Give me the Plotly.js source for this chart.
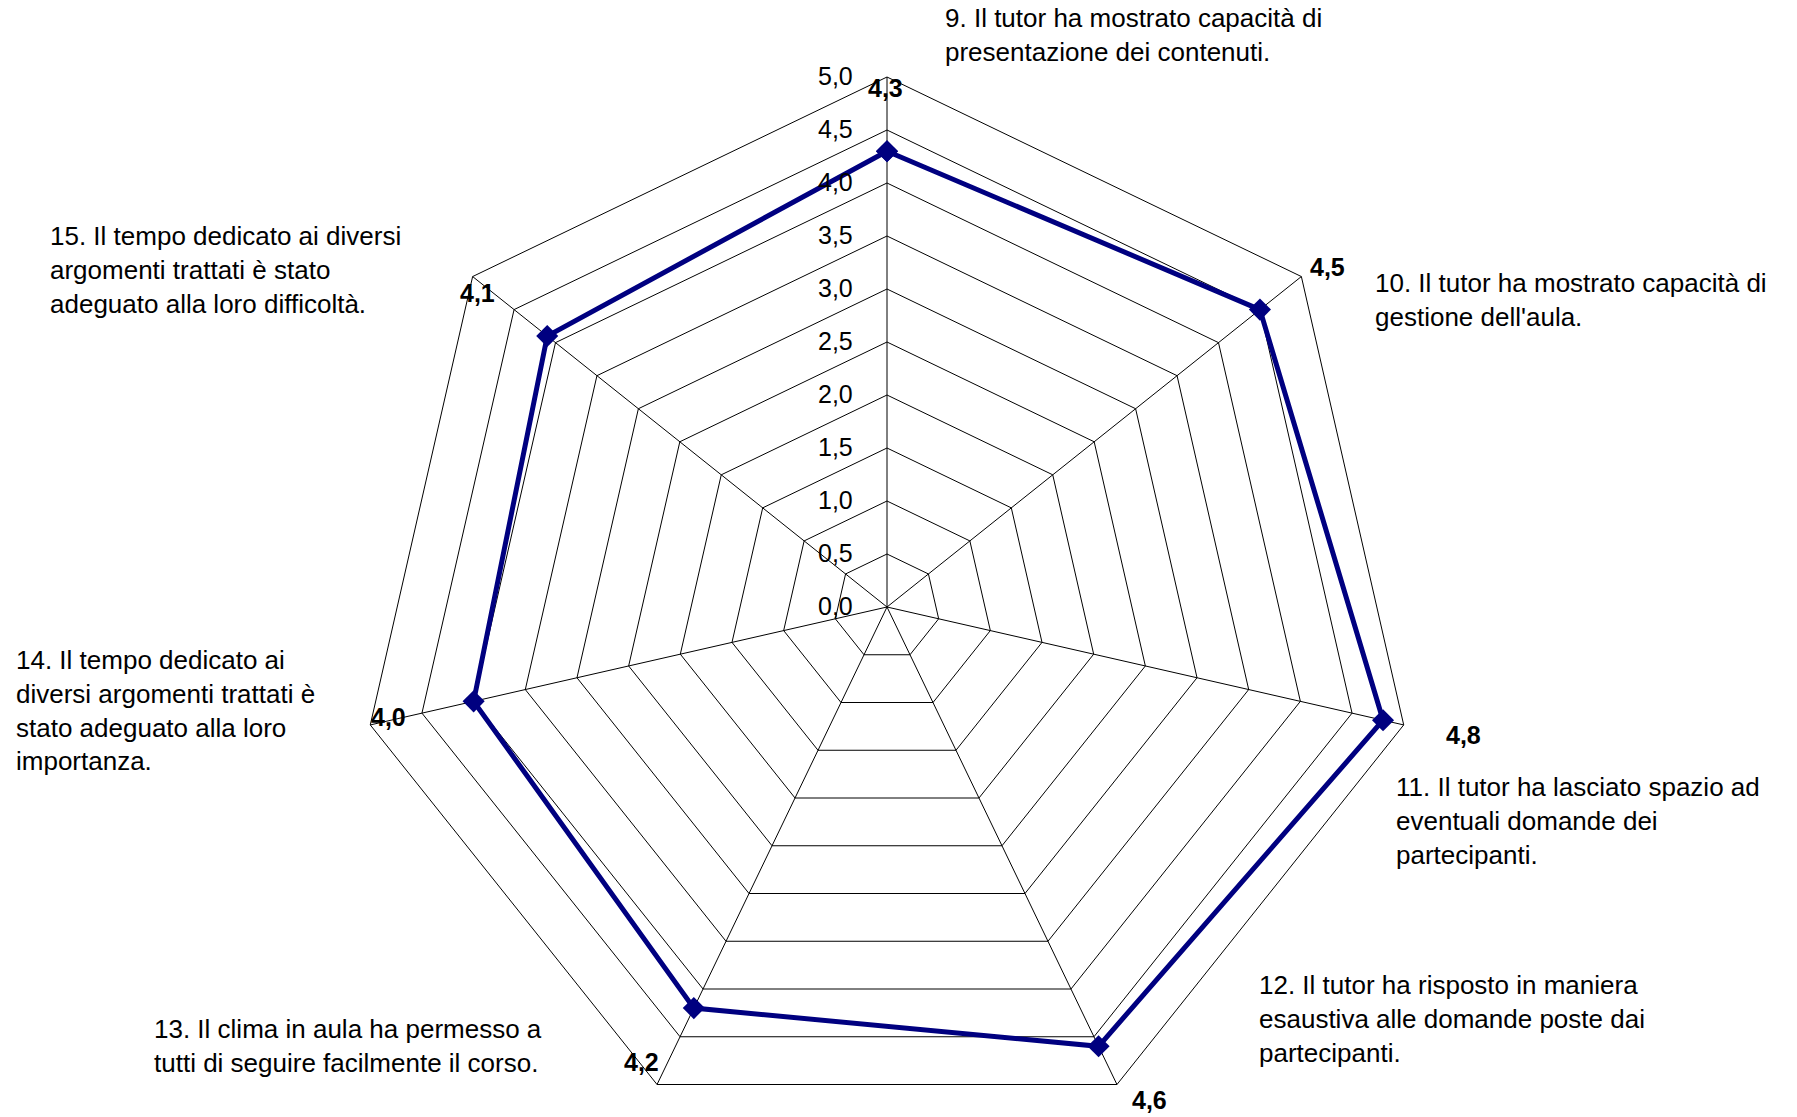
<!DOCTYPE html>
<html>
<head>
<meta charset="utf-8">
<script src="https://cdn.plot.ly/plotly-3.0.1.min.js"></script>
<style>
html, body { margin: 0; padding: 0; background: #ffffff; overflow: hidden; height: 1117px; }
#chart { width: 1797px; height: 1137px; }
</style>
</head>
<body>
<div id="chart"></div>
<script>
// ---- data ----
var questionIds = ["Q9", "Q10", "Q11", "Q12", "Q13", "Q14", "Q15"];
var questionLabels = [
  "9. Il tutor ha mostrato capacità di<br>presentazione dei contenuti.",
  "10. Il tutor ha mostrato capacità di<br>gestione dell'aula.",
  "11. Il tutor ha lasciato spazio ad<br>eventuali domande dei<br>partecipanti.",
  "12. Il tutor ha risposto in maniera<br>esaustiva alle domande poste dai<br>partecipanti.",
  "13. Il clima in aula ha permesso a<br>tutti di seguire facilmente il corso.",
  "14. Il tempo dedicato ai<br>diversi argomenti trattati è<br>stato adeguato alla loro<br>importanza.",
  "15. Il tempo dedicato ai diversi<br>argomenti trattati è stato<br>adeguato alla loro difficoltà."
];
var scores = [4.3, 4.5, 4.8, 4.6, 4.2, 4.0, 4.1];
var radialTicks = [0, 0.5, 1, 1.5, 2, 2.5, 3, 3.5, 4, 4.5, 5];

// ---- layout helpers (label placement in pixels -> paper) ----
var W = 1797, H = 1137, ML = 357, MR = 380, MT = 77, MB = 0;
var DW = W - ML - MR, DH = H - MT - MB;
function px(x) { return (x - ML) / DW; }
function py(y) { return 1 - (y - MT) / DH; }

var questionPos = [[943, 35], [1373, 300], [1394, 821], [1257, 1019], [152, 1046], [14, 710], [48, 270]];
var valuePos = [[885, 88], [1327, 267], [1463, 735], [1149, 1100], [641, 1062], [388, 717], [477, 293]];

var FONT = "Liberation Sans, Arial, Helvetica, sans-serif";
var annotations = [];
for (var i = 0; i < questionLabels.length; i++) {
  annotations.push({
    text: questionLabels[i], xref: "paper", yref: "paper",
    x: px(questionPos[i][0]), y: py(questionPos[i][1]),
    xanchor: "left", yanchor: "middle", align: "left", showarrow: false,
    font: {family: FONT, size: 26, color: "#000000"}
  });
  annotations.push({
    text: "<b>" + scores[i].toFixed(1).replace(".", ",") + "</b>", xref: "paper", yref: "paper",
    x: px(valuePos[i][0]), y: py(valuePos[i][1]),
    xanchor: "center", yanchor: "middle", showarrow: false,
    font: {family: FONT, size: 25, color: "#000000"}
  });
}

var trace = {
  type: "scatterpolar",
  r: scores.concat([scores[0]]),
  theta: questionIds.concat([questionIds[0]]),
  mode: "lines+markers",
  line: {color: "#000080", width: 5},
  marker: {symbol: "diamond", size: 17, color: "#000080"},
  hoverinfo: "skip",
  showlegend: false
};

var layout = {
  width: W, height: H,
  margin: {l: ML, r: MR, t: MT, b: MB, pad: 0},
  paper_bgcolor: "#ffffff",
  separators: ",.",
  font: {family: FONT, size: 25, color: "#000000"},
  showlegend: false,
  polar: {
    domain: {x: [0, 1], y: [0, 1]},
    bgcolor: "#ffffff",
    gridshape: "linear",
    radialaxis: {
      range: [0, 5],
      tickvals: radialTicks,
      tickformat: ".1f",
      angle: 90,
      tickangle: 90,
      side: "counterclockwise",
      showline: false,
      ticks: "outside",
      ticklen: 25,
      tickcolor: "rgba(0,0,0,0)",
      gridcolor: "#000000",
      gridwidth: 1,
      tickfont: {family: FONT, size: 25, color: "#000000"}
    },
    angularaxis: {
      type: "category",
      categoryarray: questionIds,
      direction: "clockwise",
      rotation: 90,
      showline: true,
      linecolor: "#000000",
      linewidth: 1,
      gridcolor: "#000000",
      gridwidth: 1,
      showticklabels: false,
      ticks: ""
    }
  },
  annotations: annotations
};

Plotly.newPlot("chart", [trace], layout, {displayModeBar: false, staticPlot: true});
</script>
</body>
</html>
